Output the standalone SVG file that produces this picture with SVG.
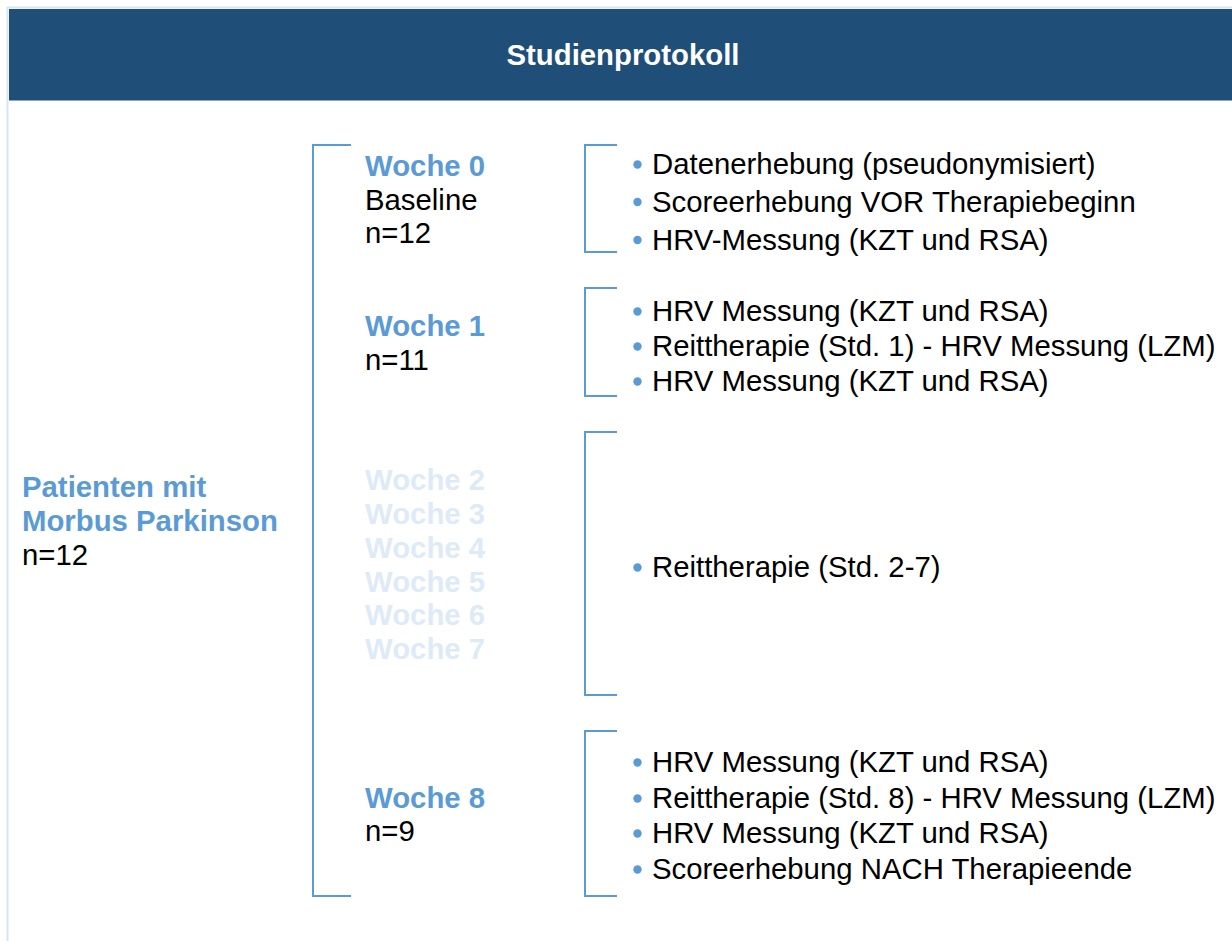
<svg xmlns="http://www.w3.org/2000/svg" width="1232" height="941" viewBox="0 0 1232 941">
<style>
.t{font-family:"Liberation Sans",Arial,sans-serif;font-size:29.33px;fill:#000}
.b{font-weight:bold;fill:#5b9bd5}
.f{font-weight:bold;fill:#deebf7}
.h{font-family:"Liberation Sans",Arial,sans-serif;font-size:29.33px;font-weight:bold;fill:#fff}
.br{fill:none;stroke:#5b9bd5;stroke-width:2}
.dot{fill:#5b9bd5}
</style>
<rect x="0" y="0" width="1232" height="941" fill="#fff"/>
<rect x="7.5" y="7.5" width="1300" height="1000" fill="#fff" stroke="#dae5f2" stroke-width="2"/>
<g id="header">
<rect x="9" y="9" width="1223" height="91.5" fill="#1f4e79"/>
<text class="h" x="623" y="65" text-anchor="middle">Studienprotokoll</text>
</g>
<g id="connectors">
<path class="br" d="M351,145 H313 V896 H351"/>
<path class="br" d="M617,145 H585 V252 H617"/>
<path class="br" d="M617,288 H585 V396 H617"/>
<path class="br" d="M617,432 H585 V695 H617"/>
<path class="br" d="M617,731 H585 V896 H617"/>
</g>
<g id="patients">
<text class="t b" x="22" y="496.5">Patienten mit</text>
<text class="t b" x="22" y="531">Morbus Parkinson</text>
<text class="t" x="22" y="565">n=12</text>
</g>
<g id="woche0">
<text class="t b" x="365" y="175.5">Woche 0</text>
<text class="t" x="365" y="209.5">Baseline</text>
<text class="t" x="365" y="243">n=12</text>
</g>
<g id="woche1">
<text class="t b" x="365" y="336">Woche 1</text>
<text class="t" x="365" y="370">n=11</text>
</g>
<g id="woche2-7">
<text class="t f" x="365" y="490">Woche 2</text>
<text class="t f" x="365" y="524">Woche 3</text>
<text class="t f" x="365" y="557.5">Woche 4</text>
<text class="t f" x="365" y="591.5">Woche 5</text>
<text class="t f" x="365" y="625">Woche 6</text>
<text class="t f" x="365" y="658.5">Woche 7</text>
</g>
<g id="woche8">
<text class="t b" x="365" y="807.5">Woche 8</text>
<text class="t" x="365" y="841">n=9</text>
</g>
<g id="tasks0">
<circle class="dot" cx="637.5" cy="164.5" r="4.2"/><text class="t" x="652" y="174">Datenerhebung (pseudonymisiert)</text>
<circle class="dot" cx="637.5" cy="202" r="4.2"/><text class="t" x="652" y="211.5">Scoreerhebung VOR Therapiebeginn</text>
<circle class="dot" cx="637.5" cy="240" r="4.2"/><text class="t" x="652" y="249.5">HRV-Messung (KZT und RSA)</text>
</g>
<g id="tasks1">
<circle class="dot" cx="637.5" cy="311.5" r="4.2"/><text class="t" x="652" y="321">HRV Messung (KZT und RSA)</text>
<circle class="dot" cx="637.5" cy="346.5" r="4.2"/><text class="t" x="652" y="356">Reittherapie (Std. 1) - HRV Messung (LZM)</text>
<circle class="dot" cx="637.5" cy="381.5" r="4.2"/><text class="t" x="652" y="391">HRV Messung (KZT und RSA)</text>
</g>
<g id="tasks2-7">
<circle class="dot" cx="637.5" cy="567.5" r="4.2"/><text class="t" x="652" y="577">Reittherapie (Std. 2-7)</text>
</g>
<g id="tasks8">
<circle class="dot" cx="637.5" cy="762.5" r="4.2"/><text class="t" x="652" y="772">HRV Messung (KZT und RSA)</text>
<circle class="dot" cx="637.5" cy="798.5" r="4.2"/><text class="t" x="652" y="808">Reittherapie (Std. 8) - HRV Messung (LZM)</text>
<circle class="dot" cx="637.5" cy="833.5" r="4.2"/><text class="t" x="652" y="843">HRV Messung (KZT und RSA)</text>
<circle class="dot" cx="637.5" cy="869.5" r="4.2"/><text class="t" x="652" y="879">Scoreerhebung NACH Therapieende</text>
</g>
</svg>
